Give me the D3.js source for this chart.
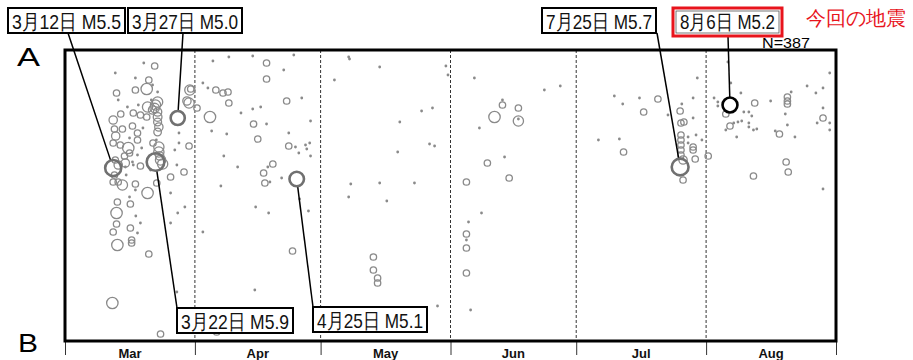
<!DOCTYPE html>
<html>
<head>
<meta charset="utf-8">
<script src="https://cdn.jsdelivr.net/npm/d3@7"></script>
<style>
  body { margin: 0; background: #fff; }
  svg text { font-family: "Liberation Sans", Arial, sans-serif; }
</style>
</head>
<body>
<div id="chart"></div>
<script>
const YEAR = 2024;
const monthNames = ['Mar', 'Apr', 'May', 'Jun', 'Jul', 'Aug'];

// [day of month, distance from A, magnitude]
const marQuakes = [
  [19.8, 1.3, 1.5], [22.4, 1.6, 3.0], [13.0, 2.3, 1.5], [17.8, 2.8, 1.5], [21.0, 3.0, 3.0],
  [20.5, 3.9, 4.3], [17.8, 4.0, 3.0], [13.3, 4.3, 3.0], [23.1, 4.2, 1.5], [23.1, 5.2, 4.0],
  [22.6, 5.5, 4.0], [21.9, 6.0, 3.5], [20.7, 5.7, 4.0], [17.3, 6.3, 3.0], [19.0, 6.5, 3.0],
  [20.5, 6.7, 3.0], [23.1, 6.2, 3.5], [23.1, 6.7, 3.6], [23.1, 7.2, 3.4], [23.4, 7.7, 3.5],
  [23.1, 8.2, 3.3], [12.5, 7.0, 3.5], [12.8, 7.9, 3.0], [14.7, 7.9, 3.0], [17.1, 7.6, 3.0],
  [18.3, 8.3, 3.0], [18.3, 9.0, 3.0], [15.9, 5.7, 1.5], [18.5, 5.5, 1.5], [30.8, 4.0, 4.0],
  [31.0, 3.9, 3.0], [30.6, 5.3, 4.0], [30.1, 5.1, 3.5], [30.6, 9.6, 3.0], [28.2, 8.3, 1.5],
  [27.2, 10.0, 1.5], [28.2, 9.3, 1.5], [23.4, 9.7, 4.0], [23.4, 10.2, 4.0], [23.6, 10.6, 3.5],
  [14.2, 9.5, 3.0], [12.5, 9.3, 3.0], [16.1, 9.8, 4.3], [16.4, 10.3, 3.0], [17.3, 11.5, 1.5],
  [15.4, 11.7, 1.5], [17.1, 11.2, 1.5], [13.7, 11.5, 3.5], [15.4, 11.3, 3.5], [19.0, 11.6, 3.0],
  [23.8, 11.0, 4.0], [24.3, 11.4, 4.0], [26.2, 12.7, 3.0], [29.4, 12.2, 3.0], [27.7, 11.5, 1.5],
  [26.2, 14.3, 1.5], [29.6, 15.7, 1.5], [27.9, 16.3, 1.5], [26.2, 17.3, 1.5], [14.7, 13.5, 4.0],
  [12.5, 13.2, 3.0], [13.7, 13.2, 3.0], [17.8, 13.4, 3.0], [20.7, 14.3, 4.3], [22.9, 13.3, 3.0],
  [13.5, 15.2, 3.0], [16.6, 15.4, 3.0], [13.3, 16.3, 4.3], [16.4, 14.7, 1.5], [17.8, 14.0, 1.5],
  [13.3, 17.4, 3.0], [12.5, 18.2, 3.0], [16.6, 17.8, 3.0], [19.0, 17.3, 1.5], [18.3, 18.3, 1.5],
  [13.5, 19.5, 4.3], [16.9, 19.0, 3.0], [16.9, 19.3, 3.0], [21.0, 20.4, 3.0], [12.3, 25.3, 4.3],
  [23.8, 28.4, 3.0], [27.7, 24.2, 1.5], [21.9, 3.5, 1.5], [13.7, 5.0, 1.5], [21.4, 12.0, 1.5],
  [19.3, 9.8, 1.5], [18.3, 10.5, 1.5], [13.0, 11.0, 3.0], [12.8, 12.5, 3.0], [15.6, 12.5, 1.5],
  [22.4, 5.8, 3.8], [22.0, 9.3, 3.0], [21.6, 5.0, 1.5], [14.3, 6.4, 3.0], [13.1, 8.6, 3.5],
  [15.2, 10.6, 3.0], [19.6, 7.8, 1.5], [16.4, 8.8, 1.5], [22.8, 9.0, 1.5], [17.9, 16.6, 1.5]
];
const aprQuakes = [
  [1.5, 5.8, 3.0], [4.6, 6.7, 4.3], [6.0, 4.0, 3.0], [7.7, 4.3, 3.0], [8.9, 4.2, 3.0],
  [9.1, 5.3, 3.0], [2.9, 3.3, 1.5], [4.1, 3.8, 1.5], [5.3, 1.1, 1.5], [9.1, 0.7, 1.5],
  [14.8, 0.6, 1.5], [18.1, 1.3, 3.0], [18.1, 2.9, 3.0], [22.2, 2.0, 1.5], [24.6, 0.5, 1.5],
  [12.0, 6.3, 1.5], [14.8, 5.9, 1.5], [16.7, 5.7, 1.5], [15.0, 7.4, 3.0], [18.1, 7.4, 1.5],
  [16.0, 8.9, 3.0], [5.0, 8.1, 1.5], [8.6, 8.4, 1.5], [22.9, 5.1, 3.0], [26.5, 4.8, 1.5],
  [28.6, 7.1, 1.5], [23.4, 8.3, 1.5], [23.4, 9.6, 3.0], [25.0, 9.7, 1.5], [27.4, 9.5, 1.5],
  [28.4, 9.3, 1.5], [27.7, 9.9, 1.5], [25.8, 10.3, 1.5], [28.6, 10.6, 1.5], [7.9, 10.6, 1.5],
  [11.2, 11.7, 1.5], [19.6, 11.4, 3.0], [17.4, 12.3, 3.0], [18.4, 11.7, 1.5], [17.7, 13.3, 3.0],
  [18.9, 13.2, 1.5], [21.7, 12.8, 1.5], [7.2, 13.6, 1.5], [15.5, 15.7, 1.5], [18.6, 16.3, 1.5],
  [28.1, 16.1, 1.5], [2.9, 18.2, 1.5], [24.3, 20.1, 3.0], [15.3, 24.0, 1.5], [26.0, 14.9, 1.5],
  [6.2, 28.2, 3.0]
];
const mayQuakes = [
  [4.3, 3.0, 1.5], [7.7, 0.7, 1.5], [7.9, 0.9, 1.5], [15.1, 1.7, 1.5], [30.9, 1.6, 1.5],
  [31.4, 2.5, 1.5], [25.1, 6.1, 1.5], [27.7, 5.8, 1.5], [19.9, 7.2, 1.5], [27.0, 9.4, 1.5],
  [28.2, 9.6, 1.5], [19.4, 10.2, 1.5], [8.2, 13.4, 1.5], [15.1, 13.3, 1.5], [23.4, 13.3, 1.5],
  [7.7, 14.7, 1.5], [16.8, 15.1, 1.5], [13.6, 20.7, 3.0], [13.6, 22.0, 3.0], [14.6, 22.8, 3.0],
  [14.6, 23.3, 3.0], [28.9, 25.6, 1.5]
];
const junQuakes = [
  [6.7, 2.8, 1.5], [7.9, 7.8, 1.5], [4.8, 13.2, 3.0], [5.3, 17.2, 1.5], [4.8, 18.4, 3.0],
  [4.8, 19.0, 1.5], [4.8, 19.8, 3.0], [4.8, 22.3, 3.0], [5.8, 26.0, 1.5], [23.4, 4.0, 1.5],
  [27.2, 3.6, 1.5], [13.4, 5.0, 1.5], [13.4, 5.5, 3.0], [17.2, 5.8, 3.0], [11.5, 6.7, 4.3],
  [17.2, 7.1, 4.0], [17.2, 6.9, 1.5], [9.8, 11.3, 3.0], [13.9, 10.7, 1.5], [15.0, 12.8, 3.0],
  [8.4, 16.3, 1.5]
];
const julQuakes = [
  [6.3, 9.0, 1.5], [10.1, 4.6, 1.5], [12.1, 5.4, 1.5], [16.1, 4.8, 1.5], [20.5, 4.9, 3.0],
  [17.1, 6.2, 3.0], [22.9, 6.5, 1.5], [26.2, 5.4, 1.5], [25.8, 6.1, 3.0], [26.0, 7.3, 3.0],
  [26.7, 7.2, 3.0], [28.9, 4.8, 1.5], [28.9, 6.8, 1.5], [29.9, 2.8, 1.5], [11.3, 8.9, 1.5],
  [12.3, 10.2, 3.0], [26.0, 8.5, 3.0], [26.0, 9.0, 3.0], [26.0, 9.5, 3.0], [26.0, 10.0, 3.0],
  [26.0, 10.5, 3.0], [26.5, 11.0, 3.5], [27.7, 8.7, 1.5], [29.6, 8.5, 1.5], [27.7, 9.3, 1.5],
  [28.9, 9.7, 3.0], [28.9, 10.0, 3.0], [29.4, 10.9, 3.0], [31.0, 9.0, 1.5], [26.5, 13.0, 3.0]
];
const augQuakes = [
  [1.5, 10.6, 3.0], [2.9, 4.8, 1.5], [3.8, 5.2, 1.5], [3.8, 5.6, 1.5], [6.2, 1.2, 1.5],
  [6.9, 3.3, 1.5], [9.3, 4.3, 1.5], [5.7, 6.4, 3.0], [12.6, 5.3, 3.0], [16.4, 5.1, 1.5],
  [20.4, 4.7, 3.0], [20.4, 5.1, 3.0], [20.4, 5.4, 3.0], [21.3, 4.2, 1.5], [19.9, 6.4, 1.5],
  [20.4, 7.5, 1.5], [25.1, 3.6, 1.5], [27.2, 4.3, 1.5], [28.9, 3.8, 1.5], [30.5, 2.3, 1.5],
  [28.9, 5.8, 1.5], [28.9, 6.8, 3.0], [27.5, 7.3, 1.5], [30.5, 7.3, 1.5], [30.5, 8.0, 1.5],
  [10.0, 6.2, 1.5], [11.2, 6.2, 1.5], [11.9, 6.6, 1.5], [6.7, 7.6, 3.0], [7.6, 7.3, 1.5],
  [8.6, 7.2, 1.5], [9.5, 7.1, 1.5], [11.2, 7.3, 1.5], [11.2, 7.7, 1.5], [5.7, 8.0, 1.5],
  [8.3, 8.7, 1.5], [12.3, 8.0, 1.5], [13.1, 7.9, 1.5], [18.5, 8.4, 3.0], [17.5, 8.1, 1.5],
  [22.2, 8.7, 1.5], [20.1, 11.2, 3.0], [20.6, 12.2, 3.0], [12.3, 12.6, 3.0], [28.9, 13.9, 1.5]
];

// [month, day, distance, magnitude, label]
const mainShocks = [
  [3, 12.5, 11.8, 5.5, '3月12日 M5.5'],
  [3, 27.9, 6.8, 5.0, '3月27日 M5.0'],
  [3, 22.6, 11.2, 5.9, '3月22日 M5.9'],
  [4, 25.3, 12.9, 5.1, '4月25日 M5.1'],
  [7, 25.8, 11.7, 5.7, '7月25日 M5.7'],
  [8, 6.7, 5.5, 5.2, '8月6日 M5.2']
];
const countText = 'N=387';
const noteText = '今回の地震';

// label box layout (pixels) and where each leader line leaves the box
const labelBoxes = [
  { x: 8, y: 8, w: 117, h: 25, ax: 68, ay: 33 },
  { x: 128, y: 8, w: 114, h: 25, ax: 183, ay: 33 },
  { x: 177, y: 308, w: 116, h: 25, ax: 177, ay: 308 },
  { x: 313, y: 307, w: 114, h: 25, ax: 313, ay: 307 },
  { x: 542, y: 8, w: 114, h: 25, ax: 657, ay: 33 },
  { x: 676, y: 11, w: 103, h: 22, ax: 728, ay: 36, highlight: true }
];

const W = 913, H = 360;
const plot = { left: 65, right: 836, top: 50, bottom: 341 };

const toDate = (m, d) => new Date(new Date(YEAR, m - 1, 1).getTime() + (d - 1) * 864e5);

const x = d3.scaleTime()
  .domain([new Date(YEAR, 2, 1), new Date(YEAR, 8, 1)])
  .range([plot.left, plot.right]);
const y = d3.scaleLinear().domain([0, 29.1]).range([plot.top, plot.bottom]);
const r = d3.scaleLinear().domain([3, 6]).range([3.2, 9]);

const quakes = [marQuakes, aprQuakes, mayQuakes, junQuakes, julQuakes, augQuakes]
  .flatMap((list, i) => list.map(q => ({ date: toDate(i + 3, q[0]), dist: q[1], mag: q[2] })));

const svg = d3.select('#chart').append('svg')
  .attr('width', W)
  .attr('height', H);

// month boundaries
const monthStarts = d3.timeMonth.range(new Date(YEAR, 2, 1), new Date(YEAR, 8, 2));

svg.append('g')
  .selectAll('line')
  .data(monthStarts.slice(1, -1))
  .enter().append('line')
  .attr('x1', d => x(d)).attr('x2', d => x(d))
  .attr('y1', plot.top).attr('y2', plot.bottom)
  .attr('stroke', '#333')
  .attr('stroke-width', 1)
  .attr('stroke-dasharray', '3,2');

// axis ticks
const axis = svg.append('g')
  .attr('transform', `translate(0,${plot.bottom})`)
  .call(d3.axisBottom(x).tickValues(monthStarts).tickSize(14).tickFormat(''));
axis.select('.domain').remove();
axis.selectAll('line').attr('stroke', '#333');

svg.append('g')
  .selectAll('text')
  .data(monthStarts.slice(0, -1))
  .enter().append('text')
  .attr('x', (d, i) => (x(d) + x(monthStarts[i + 1])) / 2)
  .attr('y', 358)
  .attr('text-anchor', 'middle')
  .attr('font-size', 13)
  .attr('font-weight', 'bold')
  .attr('fill', '#111')
  .text((d, i) => monthNames[i]);

// small events as dots, larger ones as open circles
const pts = svg.append('g');
pts.selectAll('circle.dot')
  .data(quakes.filter(d => d.mag < 2))
  .enter().append('circle')
  .attr('class', 'dot')
  .attr('cx', d => x(d.date))
  .attr('cy', d => y(d.dist))
  .attr('r', 1.4)
  .attr('fill', '#8a8a8a');

pts.selectAll('circle.ring')
  .data(quakes.filter(d => d.mag >= 2))
  .enter().append('circle')
  .attr('class', 'ring')
  .attr('cx', d => x(d.date))
  .attr('cy', d => y(d.dist))
  .attr('r', d => r(d.mag))
  .attr('fill', 'none')
  .attr('stroke', '#8a8a8a')
  .attr('stroke-width', 1.3);

// main shocks with leader lines and labels
const shocks = mainShocks.map((s, i) => ({
  date: toDate(s[0], s[1]), dist: s[2], mag: s[3], label: s[4], box: labelBoxes[i]
}));

svg.append('g')
  .selectAll('line')
  .data(shocks)
  .enter().append('line')
  .each(function (d) {
    const cx = x(d.date), cy = y(d.dist), rr = r(d.mag);
    const dx = d.box.ax - cx, dy = d.box.ay - cy, len = Math.hypot(dx, dy);
    d3.select(this)
      .attr('x1', d.box.ax).attr('y1', d.box.ay)
      .attr('x2', cx + dx / len * rr).attr('y2', cy + dy / len * rr);
  })
  .attr('stroke', '#000')
  .attr('stroke-width', 1.5);

svg.append('g')
  .selectAll('circle')
  .data(shocks)
  .enter().append('circle')
  .attr('cx', d => x(d.date))
  .attr('cy', d => y(d.dist))
  .attr('r', d => r(d.mag))
  .attr('fill', 'none')
  .attr('stroke', d => d.box.highlight ? '#000' : '#707070')
  .attr('stroke-width', 2.6);

// frame
svg.append('rect')
  .attr('x', plot.left).attr('y', plot.top)
  .attr('width', plot.right - plot.left)
  .attr('height', plot.bottom - plot.top)
  .attr('fill', 'none')
  .attr('stroke', '#000')
  .attr('stroke-width', 3);

const labels = svg.append('g')
  .selectAll('g')
  .data(shocks)
  .enter().append('g');

labels.filter(d => d.box.highlight).append('rect')
  .attr('x', d => d.box.x - 3).attr('y', d => d.box.y - 3)
  .attr('width', d => d.box.w + 6).attr('height', d => d.box.h + 6)
  .attr('fill', '#fff')
  .attr('stroke', '#e8141c')
  .attr('stroke-width', 3);

labels.append('rect')
  .attr('x', d => d.box.x).attr('y', d => d.box.y)
  .attr('width', d => d.box.w).attr('height', d => d.box.h)
  .attr('fill', '#fff')
  .attr('stroke', d => d.box.highlight ? '#555' : '#000')
  .attr('stroke-width', d => d.box.highlight ? 0.8 : 2);

labels.append('text')
  .attr('x', d => d.box.x + 4)
  .attr('y', d => d.box.y + d.box.h - 4)
  .attr('font-family', '"Noto Sans CJK JP", sans-serif')
  .attr('font-size', d => d.box.highlight ? 20 : 21)
  .attr('fill', '#111')
  .attr('textLength', d => d.box.w - 8)
  .attr('lengthAdjust', 'spacingAndGlyphs')
  .text(d => d.label);

svg.append('text')
  .attr('x', 806).attr('y', 25)
  .attr('font-family', '"Noto Sans CJK JP", sans-serif')
  .attr('font-size', 20)
  .attr('fill', '#e8141c')
  .text(noteText);

svg.append('text')
  .attr('x', 762).attr('y', 48)
  .attr('font-size', 14)
  .attr('fill', '#000')
  .attr('textLength', 48)
  .attr('lengthAdjust', 'spacingAndGlyphs')
  .text(countText);

svg.append('text')
  .attr('x', 17).attr('y', 66)
  .attr('font-size', 25)
  .attr('fill', '#000')
  .attr('textLength', 23)
  .attr('lengthAdjust', 'spacingAndGlyphs')
  .text('A');

svg.append('text')
  .attr('x', 18).attr('y', 352)
  .attr('font-size', 25)
  .attr('fill', '#000')
  .attr('textLength', 20)
  .attr('lengthAdjust', 'spacingAndGlyphs')
  .text('B');
</script>
</body>
</html>
